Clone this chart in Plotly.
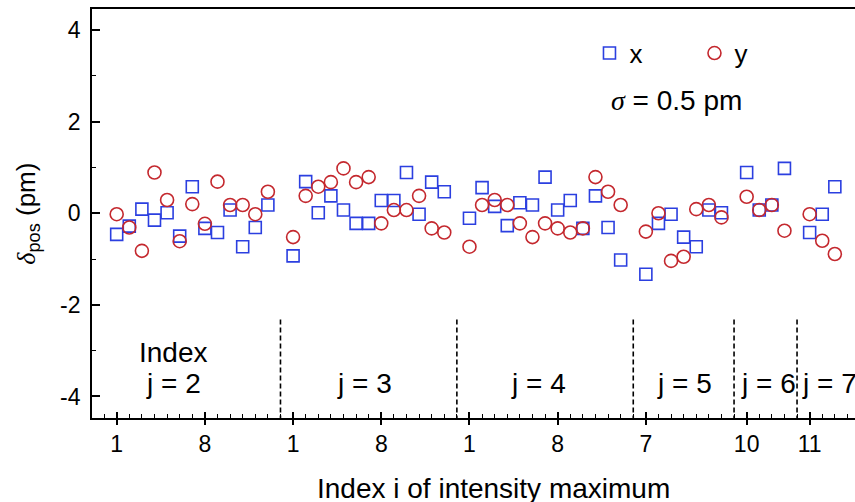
import plotly.graph_objects as go

# ---------------- data ----------------
j_groups = [2, 3, 4, 5, 6, 7]
i_first = [1, 1, 1, 7, 10, 11]
i_last = [13, 13, 13, 13, 13, 13]
tick_i = [[1, 8], [1, 8], [1, 8], [7], [10], [11]]
y_ticks = [-4, -2, 0, 2, 4]
y_tick_labels = ["-4", "-2", "0", "2", "4"]

dx_j2 = [-0.46, -0.28, 0.09, -0.15, 0.01, -0.50, 0.58, -0.33, -0.42, 0.07, -0.73, -0.31, 0.18]
dx_j3 = [-0.93, 0.69, 0.01, 0.38, 0.07, -0.22, -0.22, 0.28, 0.28, 0.89, -0.02, 0.68, 0.47]
dx_j4 = [-0.11, 0.56, 0.15, -0.27, 0.23, 0.18, 0.79, 0.07, 0.28, -0.33, 0.38, -0.31, -1.02]
dx_j5 = [-1.33, -0.22, -0.02, -0.52, -0.73, 0.07, 0.01]
dx_j6 = [0.89, 0.07, 0.18, 0.98]
dx_j7 = [-0.42, -0.02, 0.58]

dy_j2 = [-0.02, -0.31, -0.82, 0.89, 0.29, -0.61, 0.20, -0.23, 0.69, 0.18, 0.18, -0.02, 0.47]
dy_j3 = [-0.52, 0.38, 0.58, 0.68, 0.98, 0.68, 0.79, -0.22, 0.07, 0.07, 0.38, -0.33, -0.42]
dy_j4 = [-0.73, 0.18, 0.29, 0.18, -0.22, -0.52, -0.22, -0.33, -0.42, -0.33, 0.79, 0.47, 0.18]
dy_j5 = [-0.40, 0.00, -1.04, -0.95, 0.09, 0.18, -0.09]
dy_j6 = [0.36, 0.07, 0.18, -0.38]
dy_j7 = [-0.02, -0.60, -0.89]

dx_groups = [dx_j2, dx_j3, dx_j4, dx_j5, dx_j6, dx_j7]
dy_groups = [dy_j2, dy_j3, dy_j4, dy_j5, dy_j6, dy_j7]

sigma_text = "= 0.5 pm"

# ---------------- layout helpers ----------------
label_x = [5.5, 20.7, 34.5, 46.1, 52.7, 57.6]   # text positions of the j labels

FONT = "Liberation Sans, Arial, Helvetica, sans-serif"
BLUE = "#2b3fe0"
RED = "#c4282e"

pos, xs, ys = [], [], []
tickvals, ticktext, boundaries = [], [], []
p = 1
for g, j in enumerate(j_groups):
    idx = list(range(i_first[g], i_last[g] + 1))
    for k, i in enumerate(idx):
        pos.append(p + k)
        xs.append(dx_groups[g][k])
        ys.append(dy_groups[g][k])
    for ti in tick_i[g]:
        tickvals.append(p + ti - i_first[g])
        ticktext.append(str(ti))
    n = len(idx)
    boundaries.append(p + n)
    p = p + n + 1
boundaries = boundaries[:-1]

fig = go.Figure()
fig.add_trace(go.Scatter(
    x=pos, y=xs, mode="markers", name="x",
    marker=dict(symbol="square-open", size=12, color=BLUE, line=dict(width=1.6, color=BLUE)),
    xaxis="x", yaxis="y"))
fig.add_trace(go.Scatter(
    x=pos, y=ys, mode="markers", name="y",
    marker=dict(symbol="circle-open", size=13, color=RED, line=dict(width=1.6, color=RED)),
    xaxis="x2", yaxis="y"))

XR = [-0.96, 59.6]
YR = [-4.47, 4.46]

fig.update_layout(
    width=855, height=502,
    margin=dict(l=92, r=0, t=9, b=84, autoexpand=False),
    paper_bgcolor="white", plot_bgcolor="white",
    font=dict(family=FONT, color="black", size=22),
    showlegend=True,
    legend=dict(orientation="h", x=0.652, y=0.892, xanchor="left", yanchor="middle",
                font=dict(size=26, family=FONT), entrywidth=60, entrywidthmode="pixels",
                bgcolor="rgba(0,0,0,0)", itemsizing="trace"),
    xaxis=dict(range=XR, automargin=False, showgrid=False, zeroline=False, showline=True,
               linecolor="black", linewidth=1.8, mirror=True, tickmode="array",
               tickvals=tickvals, ticktext=ticktext,
               ticks="inside", ticklen=6, tickwidth=1.8, tickcolor="black",
               tickfont=dict(size=23, family=FONT), ticklabelstandoff=4,
               minor=dict(tickmode="linear", tick0=0, dtick=1, ticks="inside", ticklen=4,
                          tickwidth=1.3, tickcolor="black")),
    xaxis2=dict(range=XR, automargin=False, matches="x", overlaying="x", anchor="y",
                side="bottom", showgrid=False, zeroline=False, showline=False,
                tickmode="array", tickvals=tickvals, showticklabels=False, ticks="outside",
                ticklen=6, tickwidth=1.8, tickcolor="black"),
    yaxis=dict(range=YR, automargin=False, showgrid=False, zeroline=False, showline=True,
               linecolor="black", linewidth=1.8, tickmode="array", tickvals=y_ticks,
               ticktext=y_tick_labels,
               ticks="inside", ticklen=8, tickwidth=1.8, tickcolor="black",
               tickfont=dict(size=23, family=FONT), ticklabelstandoff=5,
               minor=dict(tickmode="array", tickvals=[-3, -1, 1, 3], ticks="inside",
                          ticklen=4, tickwidth=1.3, tickcolor="black")),
)

for b in boundaries:
    fig.add_shape(type="line", xref="x", yref="y", x0=b, x1=b, y0=-2.32, y1=YR[0],
                  line=dict(color="black", width=1.6, dash="5px,3px"))

fig.add_annotation(x=label_x[0], y=-3.03, xref="x", yref="y", text="Index", showarrow=False,
                   font=dict(size=28, family=FONT))
for g, j in enumerate(j_groups):
    fig.add_annotation(x=label_x[g], y=-3.72, xref="x", yref="y", text=f"j = {j}",
                       showarrow=False, font=dict(size=28, family=FONT))

fig.add_annotation(x=0.526, y=-0.172, xref="paper", yref="paper",
                   text="Index i of intensity maximum", showarrow=False,
                   font=dict(size=28, family=FONT), xanchor="center", yanchor="middle")
fig.add_annotation(x=-0.085, y=0.5, xref="paper", yref="paper", textangle=-90,
                   text="<span style='font-family:Liberation Serif'><i>δ</i></span><sub>pos</sub> (pm)",
                   showarrow=False, font=dict(size=26, family=FONT),
                   xanchor="center", yanchor="middle")
fig.add_annotation(x=0.766, y=0.777, xref="paper", yref="paper",
                   text="<span style='font-family:Liberation Serif'><i>σ</i></span> " + sigma_text,
                   showarrow=False, font=dict(size=28, family=FONT),
                   xanchor="center", yanchor="middle")

fig.write_html(
    "out.html",
    config={"displayModeBar": False},
    post_script="document.body.style.margin='0';document.body.style.padding='0';"
                "document.documentElement.style.overflow='hidden';",
)
